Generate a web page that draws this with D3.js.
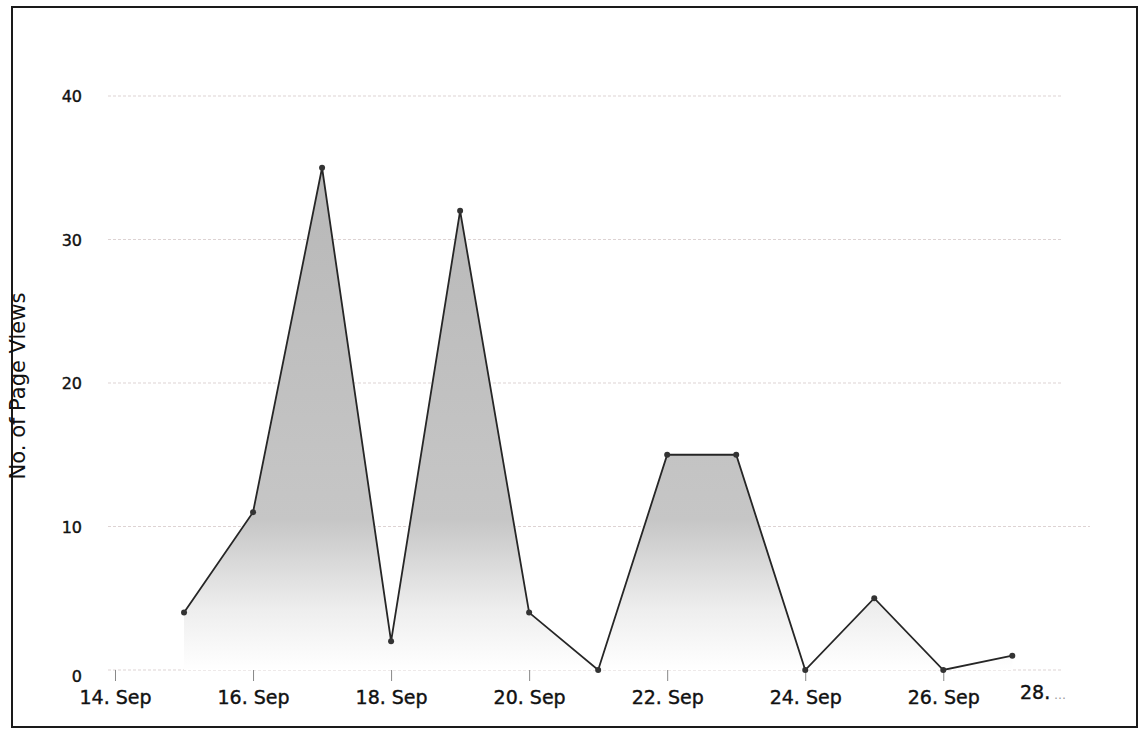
<!DOCTYPE html>
<html><head><meta charset="utf-8">
<script src="https://cdn.jsdelivr.net/npm/d3@7"></script>
<style>
body{margin:0;background:#fff;}
svg{display:block;}
text{font-family:"DejaVu Sans",sans-serif;}
</style></head>
<body>
<svg id="c" width="1142" height="737"></svg>
<script>
// Data
const dates = ["2013-09-15","2013-09-16","2013-09-17","2013-09-18","2013-09-19","2013-09-20","2013-09-21","2013-09-22","2013-09-23","2013-09-24","2013-09-25","2013-09-26","2013-09-27"];
const pageViews = [4, 11, 35, 2, 32, 4, 0, 15, 15, 0, 5, 0, 1];
const xTickDates = ["2013-09-14","2013-09-16","2013-09-18","2013-09-20","2013-09-22","2013-09-24","2013-09-26"];
const lastTickLabel = "28.";
const yTicks = [0, 10, 20, 30, 40];
const yTitle = "No. of Page Views";

const parse = d3.utcParse("%Y-%m-%d");
const data = dates.map((d,i)=>({date:parse(d), v:pageViews[i]}));

const svg = d3.select("#c");
const x = d3.scaleUtc()
  .domain([new Date(Date.UTC(2013,8,13,21,34)), new Date(Date.UTC(2013,8,27,17,17))])
  .range([108, 1062]);
const y = d3.scaleLinear().domain([0,40]).range([670, 96]);

// frame
svg.append("rect").attr("x",12).attr("y",7).attr("width",1125).attr("height",720)
  .attr("fill","none").attr("stroke","#1a1a1a").attr("stroke-width",2);

// gradient
const defs = svg.append("defs");
const g = defs.append("linearGradient").attr("id","fillg")
  .attr("gradientUnits","userSpaceOnUse").attr("x1",0).attr("x2",0)
  .attr("y1",y(35)).attr("y2",y(0));
g.append("stop").attr("offset","0%").attr("stop-color","#b8b8b8");
g.append("stop").attr("offset","70%").attr("stop-color","#c6c6c6");
g.append("stop").attr("offset","88%").attr("stop-color","#eeeeee");
g.append("stop").attr("offset","100%").attr("stop-color","#ffffff");

// grid
svg.append("g").selectAll("line").data(yTicks).join("line")
  .attr("x1",108).attr("x2",d=> d===10 ? 1090 : 1062)
  .attr("y1",d=>y(d)).attr("y2",d=>y(d))
  .attr("stroke","#ddd3d3").attr("stroke-width",1).attr("stroke-dasharray","3,2");

// y labels
svg.append("g").selectAll("text").data(yTicks).join("text")
  .attr("x",82).attr("y",d=>y(d)+(d===0?12:6)).attr("text-anchor","end")
  .attr("font-size",16).attr("fill","#111").attr("stroke","#111").attr("stroke-width",0.4)
  .text(d=>d);

// y title
svg.append("text").attr("transform","translate(25,386) rotate(-90)")
  .attr("text-anchor","middle").attr("font-size",21).attr("fill","#111")
  .attr("font-family","'Open Sans',sans-serif").text(yTitle);

// x axis
const xAxis = d3.axisBottom(x).tickValues(xTickDates.map(parse))
  .tickFormat(d3.utcFormat("%-d. %b")).tickSize(11).tickPadding(10);
const ax = svg.append("g").attr("transform",`translate(0,${y(0)})`).call(xAxis);
ax.select(".domain").remove();
ax.selectAll(".tick line").attr("stroke","#888");
ax.selectAll(".tick text").attr("font-size",19).attr("fill","#111")
  .attr("stroke","#111").attr("stroke-width",0.4)
  .attr("font-family","'DejaVu Sans',sans-serif");
// truncated last label
const lastT = svg.append("text").attr("x",1020).attr("y",y(0)+29)
  .attr("font-size",19).attr("fill","#111");
lastT.append("tspan").attr("stroke","#111").attr("stroke-width",0.4).text(lastTickLabel);
lastT.append("tspan").attr("fill","#999").attr("font-size",12).text(" …");

// area + line
const area = d3.area().x(d=>x(d.date)).y0(y(0)).y1(d=>y(d.v));
const line = d3.line().x(d=>x(d.date)).y(d=>y(d.v));
svg.append("path").datum(data).attr("d",area).attr("fill","url(#fillg)");
svg.append("path").datum(data).attr("d",line).attr("fill","none")
  .attr("stroke","#262626").attr("stroke-width",1.8);
svg.append("g").selectAll("circle").data(data).join("circle")
  .attr("cx",d=>x(d.date)).attr("cy",d=>y(d.v)).attr("r",3).attr("fill","#333");
</script>
</body></html>
